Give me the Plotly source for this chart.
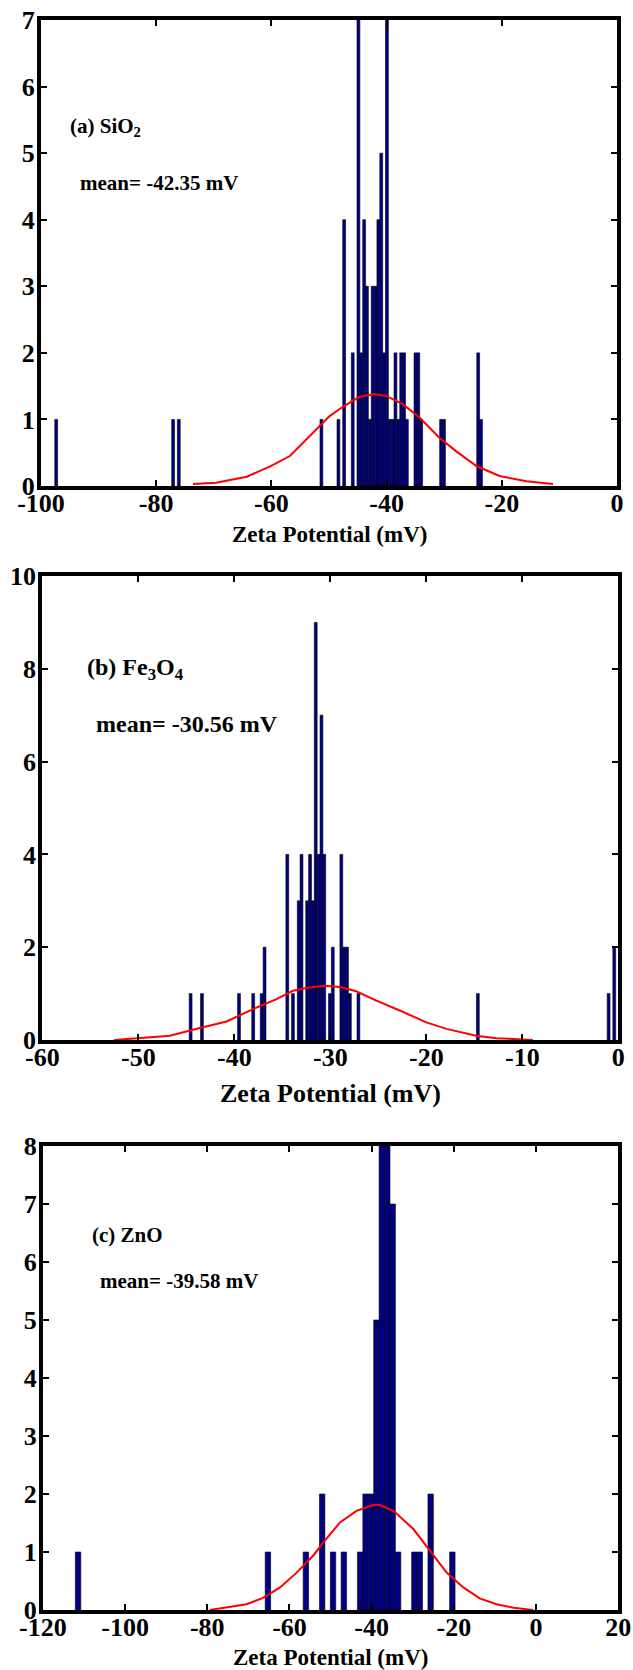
import plotly.graph_objects as go

# ---------------- data ----------------
# (a) SiO2 histogram: bin centres (mV) and counts
sio2_centers = [-97.36, -77.06, -76.08, -51.32, -48.36, -47.37, -45.88, -44.89, -44.40,
                -43.90, -43.41, -42.91, -42.42, -41.92, -41.43, -40.93, -40.44, -39.94,
                -39.45, -38.95, -38.46, -37.96, -37.47, -36.97, -36.48, -34.99, -34.50,
                -34.00, -30.54, -30.04, -24.10, -23.61]
sio2_counts = [1, 1, 1, 1, 1, 4, 2, 7, 2,
               4, 3, 1, 3, 3, 4, 5, 2, 7,
               1, 1, 2, 1, 2, 2, 1, 2, 2,
               1, 1, 1, 2, 1]
sio2_binwidth = 0.495
sio2_fit_x = [-73.6, -69.6, -64.3, -60.3, -56.8, -52.8, -49.9, -47.6, -44.7, -42.1,
              -40.0, -37.2, -34.3, -30.8, -27.9, -24.4, -20.4, -15.7, -11.1]
sio2_fit_y = [0.03, 0.05, 0.14, 0.29, 0.45, 0.80, 1.05, 1.19, 1.34, 1.38,
              1.35, 1.23, 1.03, 0.72, 0.52, 0.30, 0.15, 0.07, 0.03]
sio2_xticks = [-100, -80, -60, -40, -20, 0]
sio2_yticks = [0, 1, 2, 3, 4, 5, 6, 7]

# (b) Fe3O4 histogram
fe3o4_centers = [-44.55, -43.37, -39.51, -38.03, -37.15, -36.85, -34.48, -33.89, -33.29,
                 -33.00, -32.41, -32.11, -31.81, -31.52, -31.22, -30.92, -30.63, -30.04,
                 -29.74, -28.85, -28.56, -28.26, -27.96, -27.07, -14.63, -1.01, -0.42]
fe3o4_counts = [1, 1, 1, 1, 1, 2, 4, 1, 3,
                4, 3, 4, 3, 9, 4, 7, 4, 1,
                2, 4, 2, 2, 1, 1, 1, 1, 2]
fe3o4_binwidth = 0.296
fe3o4_fit_x = [-52.5, -50.2, -46.7, -43.6, -40.8, -38.0, -35.6, -33.9, -32.5, -30.6,
               -29.0, -27.3, -25.2, -22.7, -20.0, -17.9, -14.8, -12.7, -8.9]
fe3o4_fit_y = [0.0, 0.04, 0.09, 0.26, 0.40, 0.67, 0.88, 1.06, 1.12, 1.17,
               1.14, 1.05, 0.85, 0.63, 0.38, 0.24, 0.09, 0.04, 0.0]
fe3o4_xticks = [-60, -50, -40, -30, -20, -10, 0]
fe3o4_yticks = [0, 2, 4, 6, 8, 10]

# (c) ZnO histogram
zno_centers = [-111.44, -65.24, -56.00, -52.04, -49.40, -46.76, -42.80, -41.48, -40.16,
               -38.84, -37.52, -36.20, -34.88, -33.56, -29.60, -28.28, -25.64, -20.36]
zno_counts = [1, 1, 1, 2, 1, 1, 1, 2, 2,
              5, 8, 8, 7, 1, 1, 1, 2, 1]
zno_binwidth = 1.32
zno_fit_x = [-79.4, -74.5, -70.4, -66.4, -62.3, -58.3, -54.2, -51.8, -47.7, -43.7,
             -39.6, -38.0, -34.7, -29.9, -25.8, -21.8, -17.7, -13.7, -9.6, -5.5, -0.7]
zno_fit_y = [0.0, 0.05, 0.10, 0.21, 0.39, 0.64, 0.94, 1.16, 1.51, 1.71,
             1.81, 1.81, 1.71, 1.40, 1.01, 0.65, 0.39, 0.20, 0.10, 0.04, 0.0]
zno_xticks = [-120, -100, -80, -60, -40, -20, 0, 20]
zno_yticks = [0, 1, 2, 3, 4, 5, 6, 7, 8]

panels = [
    dict(centers=sio2_centers, counts=sio2_counts, width=sio2_binwidth,
         fx=sio2_fit_x, fy=sio2_fit_y, xr=[-100, 0], xt=sio2_xticks,
         yr=[0, 7], yt=sio2_yticks,
         dom_x=[41 / 633, 617 / 633], dom_y=[1 - 486 / 1670, 1 - 20 / 1670],
         label="(a) SiO<sub>2</sub>", label_xy=(-95.3, 5.4),
         mean="mean= -42.35 mV", mean_xy=(-93.6, 4.55), note_size=21,
         title_y=1 - 534 / 1670, title_size=23),
    dict(centers=fe3o4_centers, counts=fe3o4_counts, width=fe3o4_binwidth,
         fx=fe3o4_fit_x, fy=fe3o4_fit_y, xr=[-60, 0], xt=fe3o4_xticks,
         yr=[0, 10], yt=fe3o4_yticks,
         dom_x=[42.3 / 633, 618.3 / 633], dom_y=[1 - 1040 / 1670, 1 - 576 / 1670],
         label="(b) Fe<sub>3</sub>O<sub>4</sub>", label_xy=(-55.6, 8.0),
         mean="mean= -30.56 mV", mean_xy=(-54.6, 6.8), note_size=24,
         title_y=1 - 1093 / 1670, title_size=26),
    dict(centers=zno_centers, counts=zno_counts, width=zno_binwidth,
         fx=zno_fit_x, fy=zno_fit_y, xr=[-120, 20], xt=zno_xticks,
         yr=[0, 8], yt=zno_yticks,
         dom_x=[42.9 / 633, 618.2 / 633], dom_y=[1 - 1610 / 1670, 1 - 1146 / 1670],
         label="(c) ZnO", label_xy=(-108.5, 6.47),
         mean="mean= -39.58 mV", mean_xy=(-106.6, 5.68), note_size=21,
         title_y=1 - 1657 / 1670, title_size=23),
]

FONT = "Liberation Serif"

fig = go.Figure()
layout = dict(width=633, height=1670, margin=dict(l=0, r=0, t=0, b=0, pad=0),
              autosize=False,
              paper_bgcolor="white", plot_bgcolor="white", showlegend=False,
              barmode="overlay", annotations=[])

for i, p in enumerate(panels):
    n = "" if i == 0 else str(i + 1)
    xa, ya = "x" + n, "y" + n
    fig.add_trace(go.Bar(x=p["centers"], y=p["counts"], width=p["width"],
                         marker=dict(color="#000080", line=dict(color="black", width=0.6)),
                         xaxis=xa, yaxis=ya))
    fig.add_trace(go.Scatter(x=p["fx"], y=p["fy"], mode="lines",
                             line=dict(color="#ff0000", width=2),
                             xaxis=xa, yaxis=ya))
    common = dict(showline=True, linecolor="black", linewidth=4, mirror="ticks",
                  ticks="inside", ticklen=6, tickwidth=2, tickcolor="black",
                  showgrid=False, zeroline=False, automargin=False,
                  tickfont=dict(family=FONT, size=26, color="black"))
    layout["xaxis" + n] = dict(common, domain=p["dom_x"], range=p["xr"],
                               tickmode="array", tickvals=p["xt"],
                               ticktext=["<b>%d</b>" % v for v in p["xt"]],
                               ticklabelstandoff=-9,
                               anchor=ya)
    layout["yaxis" + n] = dict(common, domain=p["dom_y"], range=p["yr"],
                               tickmode="array", tickvals=p["yt"],
                               ticktext=["<b>%d</b>" % v for v in p["yt"]],
                               ticklabelstandoff=-3,
                               anchor=xa)
    layout["annotations"] += [
        dict(x=p["label_xy"][0], y=p["label_xy"][1], xref=xa, yref=ya,
             text="<b>" + p["label"] + "</b>", showarrow=False, xanchor="left", yanchor="middle",
             font=dict(family=FONT, size=p["note_size"], color="black")),
        dict(x=p["mean_xy"][0], y=p["mean_xy"][1], xref=xa, yref=ya,
             text="<b>" + p["mean"] + "</b>", showarrow=False, xanchor="left", yanchor="middle",
             font=dict(family=FONT, size=p["note_size"], color="black")),
        dict(x=(p["dom_x"][0] + p["dom_x"][1]) / 2, y=p["title_y"], xref="paper", yref="paper",
             text="<b>Zeta Potential (mV)</b>", showarrow=False, xanchor="center", yanchor="middle",
             font=dict(family=FONT, size=p["title_size"], color="black")),
    ]

fig.update_layout(**layout)
fig.write_html("out.html")
